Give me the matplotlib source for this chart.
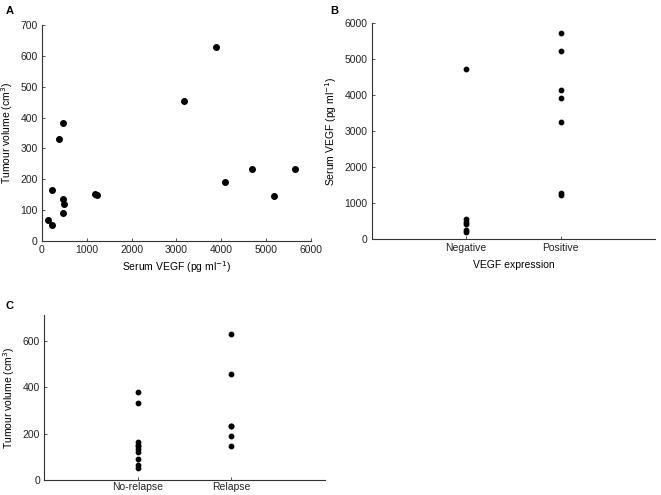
import matplotlib
matplotlib.use("Agg")
import matplotlib.pyplot as plt

plt.rcParams['font.family'] = ['Liberation Sans', 'DejaVu Sans']

# ---- 数据 ----
# A: serum VEGF vs tumour volume
vegf_a = [141, 231, 223, 387, 477, 469, 490, 477, 1176, 1236, 3157, 3872, 4073, 4683, 5168, 5652]
vol_a = [67, 51, 166, 331, 381, 136, 121, 91, 153, 149, 455, 628, 192, 235, 147, 233]

# B: serum VEGF by VEGF expression
b_labels = ["Negative", "Positive"]
b_neg = [4720, 545, 481, 420, 265, 185]
b_pos = [5730, 5230, 4140, 3920, 3240, 1280, 1230]

# C: tumour volume by relapse
c_labels = ["No-relapse", "Relapse"]
c_norel = [381, 331, 166, 153, 149, 136, 121, 91, 67, 51]
c_rel = [628, 455, 235, 233, 192, 147]

AX_COL = "#333333"
FS = 7.5


def style(ax):
    for s in ("top", "right"):
        ax.spines[s].set_visible(False)
    for s in ("left", "bottom"):
        ax.spines[s].set_color(AX_COL)
        ax.spines[s].set_linewidth(0.8)
    ax.tick_params(direction="in", length=2, width=0.6, colors=AX_COL,
                   labelsize=FS, labelcolor="#222222", pad=3)


fig = plt.figure(figsize=(6.61, 4.95), dpi=100)

# ---- A ----
ax = fig.add_axes([0.0635, 0.513, 0.407, 0.4365])
ax.scatter(vegf_a, vol_a, s=16, color="black", zorder=3)
ax.set_xlim(0, 6000); ax.set_ylim(0, 700)
ax.set_xticks(range(0, 6001, 1000)); ax.set_yticks(range(0, 701, 100))
ax.set_xlabel("Serum VEGF (pg ml$^{-1}$)", fontsize=FS, labelpad=3)
ax.set_ylabel("Tumour volume (cm$^{3}$)", fontsize=FS, labelpad=4)
style(ax)
fig.text(0.008, 0.972, "A", fontsize=8, fontweight="bold")

# ---- B ----
ax = fig.add_axes([0.5623, 0.517, 0.4287, 0.437])
ax.scatter([1] * len(b_neg), b_neg, s=10, color="black", zorder=3)
ax.scatter([2] * len(b_pos), b_pos, s=10, color="black", zorder=3)
ax.set_xlim(0, 3); ax.set_ylim(0, 6000)
ax.set_xticks([1, 2]); ax.set_xticklabels(b_labels)
ax.set_yticks(range(0, 6001, 1000))
ax.set_xlabel("VEGF expression", fontsize=FS, labelpad=5)
ax.set_ylabel("Serum VEGF (pg ml$^{-1}$)", fontsize=FS, labelpad=4)
style(ax)
ax.tick_params(axis="x", pad=3)
fig.text(0.5, 0.972, "B", fontsize=8, fontweight="bold")

# ---- C ----
ax = fig.add_axes([0.067, 0.0297, 0.4247, 0.334])
ax.scatter([1] * len(c_norel), c_norel, s=10, color="black", zorder=3)
ax.scatter([2] * len(c_rel), c_rel, s=10, color="black", zorder=3)
ax.set_xlim(0, 3); ax.set_ylim(0, 710)
ax.set_xticks([1, 2]); ax.set_xticklabels(c_labels)
ax.set_yticks(range(0, 601, 200))
ax.set_ylabel("Tumour volume (cm$^{3}$)", fontsize=FS, labelpad=4)
style(ax)
ax.tick_params(axis="x", pad=1)
fig.text(0.009, 0.375, "C", fontsize=8, fontweight="bold")

fig.savefig("out.png", dpi=100)
